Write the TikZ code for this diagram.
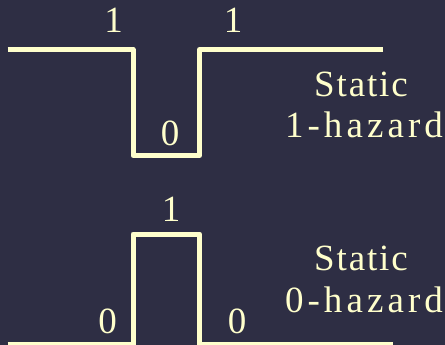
\documentclass[tikz,border=0pt]{standalone}
\usepackage{fontspec}
\setmainfont{Liberation Serif}
\newfontfamily\trackedA[LetterSpace=5]{Liberation Serif}
\newfontfamily\trackedB[LetterSpace=11]{Liberation Serif}
\definecolor{bgnavy}{RGB}{46,46,68}
\definecolor{cream}{RGB}{255,255,204}
\tikzset{
  wave/.style={draw=cream, line width=5pt, line join=round},
  lvl/.style={text=cream, anchor=base, inner sep=0pt, font=\fontsize{37}{40}\selectfont},
  caption/.style={text=cream, anchor=base, inner sep=0pt, font=\fontsize{37}{40}\selectfont\trackedA},
  hazard/.style={text=cream, anchor=base, inner sep=0pt, font=\fontsize{37}{40}\selectfont\trackedB}
}
\begin{document}
\begin{tikzpicture}[x=1pt, y=-1pt]
  \fill[bgnavy] (0,0) rectangle (445,345);
  \useasboundingbox (0,0) rectangle (445,345);

  % static 1-hazard: high level with a short dip to 0
  \draw[wave] (7.5,49.5) -- (133,49.5) -- (133,155.5) -- (199.5,155.5)
              -- (199.5,49.5) -- (383,49.5);
  \node[lvl] (h1a) at (113.5,33) {1};
  \node[lvl] (h1b) at (233,33) {1};
  \node[lvl] (h1dip) at (170,146) {0};
  \node[caption] (cap1a) at (361,97) {Static};
  \node[hazard] (cap1b) at (364,138) {1-hazard};

  % static 0-hazard: low level with a short pulse to 1
  \draw[wave] (7.5,344.5) -- (133,344.5) -- (133,234) -- (199.5,234)
              -- (199.5,344.5) -- (393,344.5);
  \node[lvl] (h0pulse) at (171,221) {1};
  \node[lvl] (h0a) at (107.5,333) {0};
  \node[lvl] (h0b) at (237,333) {0};
  \node[caption] (cap0a) at (361,270) {Static};
  \node[hazard] (cap0b) at (364,312) {0-hazard};
\end{tikzpicture}
\end{document}
